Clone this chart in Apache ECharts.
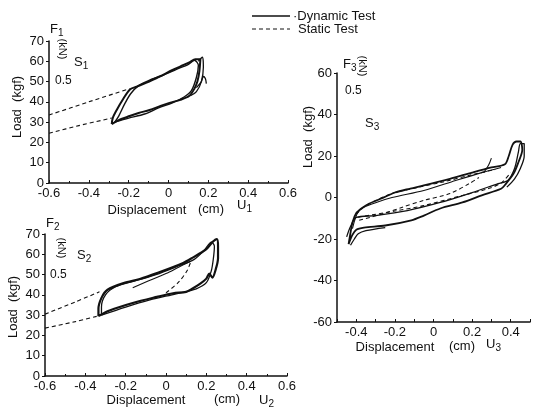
<!DOCTYPE html>
<html><head><meta charset="utf-8">
<script src="https://cdn.jsdelivr.net/npm/echarts@6/dist/echarts.min.js"></script>
<style>html,body{margin:0;padding:0;background:#fff}#c{width:533px;height:410px}</style>
</head><body><div id="c"></div>
<script>
// ---- S1 data (displacement cm, load kgf)
const s1DynA = [[-0.285,29],[-0.25,31],[-0.195,33],[-0.15,34.5],[-0.095,36],[-0.04,38],[0.005,39.5],[0.06,41],[0.105,43],[0.13,46.5],[0.145,50],[0.155,55],[0.16,61],[0.135,61],[0.105,59.5],[0.06,57.5],[0.02,55.7],[-0.045,52.5],[-0.11,49.5],[-0.16,47.5],[-0.195,46],[-0.23,41],[-0.26,36],[-0.28,32],[-0.285,29]];
const s1DynB = [[-0.27,30],[-0.2,32],[-0.12,34],[-0.05,37],[0.02,39.5],[0.08,42.5],[0.115,45.5],[0.14,52],[0.15,58],[0.13,60.5],[0.1,58.5],[0.04,56],[-0.03,53],[-0.1,50.5],[-0.15,48],[-0.19,44],[-0.22,39],[-0.25,33],[-0.27,30]];
const s1DynC = [[0.11,43],[0.14,45],[0.165,50],[0.175,57],[0.17,62],[0.15,60]];
const s1Hook = [[0.14,47],[0.165,50],[0.175,52.5],[0.185,51.5],[0.19,49]];
const s1StaticUpper = [[-0.6,33.5],[-0.4,40],[-0.195,46.5]];
const s1StaticLower = [[-0.6,24.5],[-0.45,28.3],[-0.285,32]];
// ---- S2 data
const s2DynA = [[-0.335,29.5],[-0.28,32.3],[-0.165,36],[-0.045,39],[0.035,40.8],[0.1,41.5],[0.13,43],[0.17,45.5],[0.2,48],[0.215,50.5],[0.23,48.5],[0.245,52],[0.258,58],[0.258,64],[0.252,67.5],[0.23,66],[0.205,63],[0.185,61.5],[0.135,58.5],[0.085,55.7],[-0.045,50.7],[-0.13,47.8],[-0.21,45.8],[-0.29,42.5],[-0.32,38.5],[-0.335,33],[-0.335,29.5]];
const s2DynB = [[-0.32,30],[-0.2,34],[-0.08,37.5],[0.05,40.5],[0.15,43],[0.2,46],[0.225,52],[0.235,58],[0.24,64],[0.225,66],[0.19,62],[0.14,57.5],[0.05,53.8],[-0.05,50],[-0.15,47],[-0.25,44],[-0.3,40],[-0.32,34],[-0.32,30]];
const s2Inner = [[-0.165,43.5],[-0.1,46.3],[0,50.5],[0.06,53.5],[0.12,56.5]];
const s2StaticUpper = [[-0.6,30.5],[-0.45,36.5],[-0.33,41.5]];
const s2StaticLower = [[-0.6,23.6],[-0.45,26.8],[-0.34,29.5]];
const s2StaticInner = [[0.0,41],[0.06,46],[0.105,52],[0.125,57]];
// ---- S3 data
const s3DynA = [[-0.44,-22.5],[-0.43,-17],[-0.42,-12],[-0.4,-7.5],[-0.37,-5],[-0.335,-3],[-0.27,-0.5],[-0.2,2.4],[-0.12,4.3],[-0.05,5.8],[0.085,9],[0.2,12],[0.3,14.5],[0.37,16],[0.39,20],[0.41,25.5],[0.43,27],[0.45,27],[0.46,23],[0.44,17],[0.415,11.5],[0.37,6],[0.35,4.2],[0.25,1],[0.15,-2.4],[0.035,-5.3],[-0.05,-8.7],[-0.115,-11],[-0.25,-13.5],[-0.36,-14.5],[-0.4,-15.5],[-0.42,-18],[-0.44,-22.5]];
const s3DynB = [[-0.45,-19],[-0.43,-14],[-0.4,-9.6],[-0.3,-8.7],[-0.135,-6.3],[0.035,-2.4],[0.2,2.4],[0.335,6.7],[0.385,8.2],[0.42,14],[0.44,22],[0.45,26],[0.47,26],[0.47,20],[0.45,14],[0.42,9],[0.38,5]];
const s3DynC = [[-0.42,-15],[-0.385,-6.3],[-0.3,-2.5],[-0.215,0],[-0.05,3.4],[0.115,8.2],[0.25,12],[0.35,14.5]];
const s3DynD = [[-0.43,-23],[-0.41,-20],[-0.39,-17.5],[-0.35,-16],[-0.25,-14.5]];
const s3Spike = [[0.26,12],[0.285,15.5],[0.3,19]];
const s3StatA = [[-0.4,-8],[-0.35,-3.9],[-0.215,1.9],[-0.085,4.8],[0.05,7.5],[0.2,11],[0.32,13.5]];
const s3StatB = [[-0.385,-11],[-0.25,-7.5],[-0.165,-4.8],[-0.05,-1.4],[0.085,1.9],[0.185,6.7],[0.235,9.6]];
const s3StatC = [[-0.39,-9.5],[-0.2,-6.5],[-0.05,-3.9],[0.15,1],[0.285,4.3],[0.35,7],[0.4,12]];

const FONT = '"Liberation Sans", "DejaVu Sans", sans-serif';
const chart = echarts.init(document.getElementById('c'), null, {renderer:'canvas'});

function fmt(v){ const r = Math.round(v*10)/10; return r === 0 ? '0' : String(r); }
function xAx(gi, min, max, interval, evenOnly){
  return {gridIndex:gi, type:'value', min:min, max:max, interval:interval,
    axisLine:{onZero:false, lineStyle:{color:'#111', width:1.5}},
    axisTick:{show:true, inside:true, length:3, lineStyle:{color:'#111'}},
    minorTick:{show:!evenOnly, splitNumber:2, length:2, lineStyle:{color:'#111'}},
    splitLine:{show:false},
    axisLabel:{color:'#111', fontSize:13, fontFamily:FONT, margin:4,
      formatter: v => { if (evenOnly){ const k=Math.round(v*10); if (k%2!==0) return ''; } return fmt(v); }}};
}
function yAx(gi, min, max, interval){
  return {gridIndex:gi, type:'value', min:min, max:max, interval:interval,
    axisLine:{onZero:false, lineStyle:{color:'#111', width:1.5}},
    axisTick:{show:true, length:3, lineStyle:{color:'#111'}},
    splitLine:{show:false},
    axisLabel:{color:'#111', fontSize:13, fontFamily:FONT, margin:5}};
}
function dyn(data, xi, w){ return {type:'line', data:data, xAxisIndex:xi, yAxisIndex:xi, showSymbol:false, smooth:0.3, silent:true,
  lineStyle:{color:'#111', width:w||2}}; }
function sta(data, xi){ return {type:'line', data:data, xAxisIndex:xi, yAxisIndex:xi, showSymbol:false, smooth:0.3, silent:true,
  lineStyle:{color:'#111', width:1.1, type:[4,3]}}; }

function txt(x, y, text, opt){
  opt = opt || {};
  return {type:'text', x:x, y:y, rotation: opt.rot || 0,
    style:{text:text, font: (opt.size||13)+'px '+FONT, fill:'#111', align: opt.align||'left', verticalAlign:'middle',
      rich: {s:{fontSize:10, fontFamily:FONT, fill:'#111', padding:[8,0,0,0]}, n:{fontSize:13, fontFamily:FONT, fill:'#111'}}}};
}

chart.setOption({
  animation:false,
  backgroundColor:'#fff',
  grid:[
    {left:49, top:41, width:239, height:142},
    {left:45, top:234, width:242, height:142},
    {left:337, top:73, width:206, height:249}
  ],
  xAxis:[ xAx(0,-0.6,0.6,0.2,false), xAx(1,-0.6,0.6,0.2,false), xAx(2,-0.5,0.5,0.1,true) ],
  yAxis:[ yAx(0,0,70,10), yAx(1,0,70,10), yAx(2,-60,60,20) ],
  series:[
    dyn(s1DynA,0), dyn(s1DynB,0,1.4), dyn(s1DynC,0,1.3), dyn(s1Hook,0,1.3),
    sta(s1StaticUpper,0), sta(s1StaticLower,0),
    dyn(s2DynA,1,2.2), dyn(s2DynB,1,1.3), dyn(s2Inner,1,1.1),
    sta(s2StaticUpper,1), sta(s2StaticLower,1), sta(s2StaticInner,1),
    dyn(s3DynA,2,1.8), dyn(s3DynB,2,1.3), dyn(s3DynC,2,1.1), dyn(s3DynD,2,1.3), dyn(s3Spike,2,1.1),
    sta(s3StatA,2), sta(s3StatB,2), sta(s3StatC,2)
  ],
  graphic:[
    // legend
    {type:'line', shape:{x1:252,y1:16,x2:290,y2:16}, style:{stroke:'#111', lineWidth:1.6}},
    {type:'line', shape:{x1:252,y1:29,x2:290,y2:29}, style:{stroke:'#111', lineWidth:1, lineDash:[4,3]}},
    txt(293,16,'·Dynamic Test'),
    txt(298,29,'Static Test'),
    // S1 annotations
    txt(50,29,'{n|F}{s|1}'),
    txt(62,49,'(kN)',{rot:-Math.PI/2, align:'center', size:11}),
    txt(74,62,'{n|S}{s|1}'),
    txt(55,81,'0.5',{size:12}),
    txt(17,107,'Load  (kgf)',{rot:Math.PI/2, align:'center'}),
    txt(147,210,'Displacement',{align:'center'}),
    txt(211,209,'(cm)',{align:'center'}),
    txt(237,205,'{n|U}{s|1}'),
    // S2 annotations
    txt(46,223,'{n|F}{s|2}'),
    txt(61,248,'(kN)',{rot:-Math.PI/2, align:'center', size:11}),
    txt(77,255,'{n|S}{s|2}'),
    txt(50,275,'0.5',{size:12}),
    txt(13,307,'Load  (kgf)',{rot:Math.PI/2, align:'center'}),
    txt(146,400,'Displacement',{align:'center'}),
    txt(227,399,'(cm)',{align:'center'}),
    txt(259,400,'{n|U}{s|2}'),
    // S3 annotations
    txt(343,64,'{n|F}{s|3}'),
    txt(362,66,'(kN)',{rot:-Math.PI/2, align:'center', size:11}),
    txt(345,91,'0.5',{size:12}),
    txt(365,123,'{n|S}{s|3}'),
    txt(308,137,'Load  (kgf)',{rot:Math.PI/2, align:'center'}),
    txt(395,347,'Displacement',{align:'center'}),
    txt(462,346,'(cm)',{align:'center'}),
    txt(486,344,'{n|U}{s|3}')
  ]
});
</script></body></html>
